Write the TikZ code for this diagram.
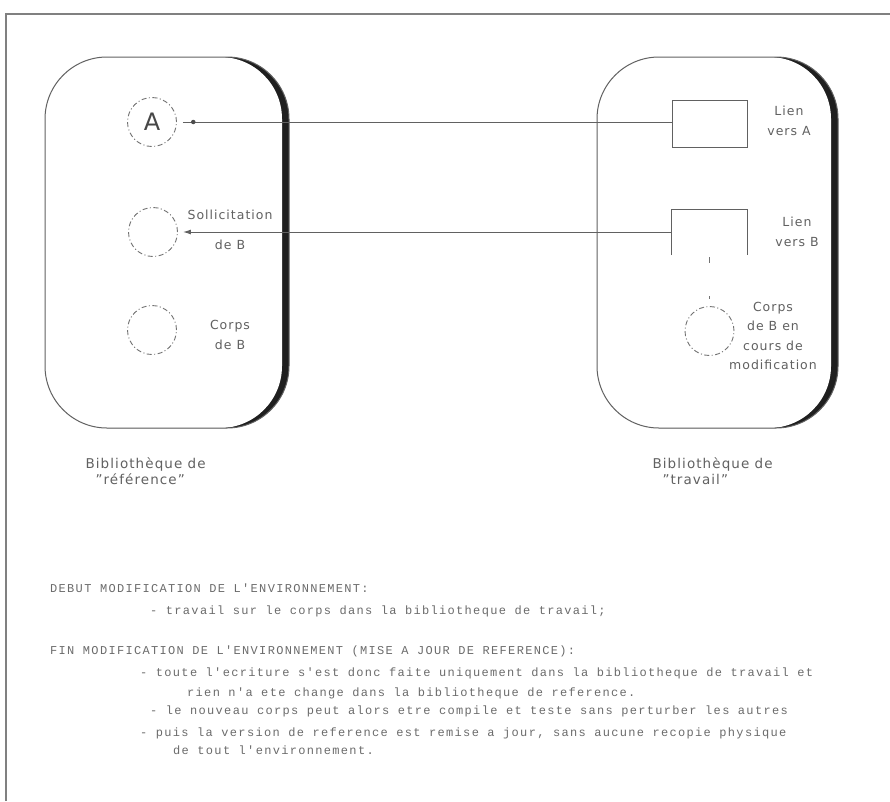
\documentclass[tikz,border=0pt]{standalone}
\usepackage{fontspec}
\setmainfont[LetterSpace=8]{DejaVu Sans}
\newfontfamily\listfont[LetterSpace=11]{Liberation Mono}
\usetikzlibrary{arrows.meta}

\tikzset{
  trait/.style={draw=black!62, line width=1pt},
  bord/.style={rounded corners=62pt},
  bulle/.style={circle, draw=black!55, line width=0.9pt,
    dash pattern=on 5pt off 2.5pt on 1pt off 2.5pt,
    minimum size=49pt, inner sep=0pt},
  lien/.style={trait, minimum width=75pt, minimum height=47pt, inner sep=0pt},
  point/.style={circle, fill=black!70, inner sep=0pt, minimum size=4.5pt},
  legende/.style={text=black!62, font=\fontsize{12.5}{19.5}\selectfont, align=center},
  biblio/.style={text=black!62, font=\fontsize{13.5}{15.5}\selectfont, align=left, anchor=west},
  ligne/.style={text=black!58, font=\listfont\fontsize{12}{14}\selectfont, anchor=base west, inner sep=0pt}
}

\begin{document}
\begin{tikzpicture}[x=1pt, y=-1pt]
  \useasboundingbox (0,0) rectangle (890,801);
  \draw[black!50, line width=1.6pt] (6,801) -- (6,14) -- (890,14);

  \fill[black!88, bord] (45,57) rectangle (289,428);
  \fill[white, bord] (38,57) rectangle (282,428);
  \draw[trait, bord] (45,57) rectangle (289,428);

  \fill[black!88, bord] (597,57) rectangle (838,428);
  \fill[white, bord] (590,57) rectangle (831,428);
  \draw[trait, bord] (597,57) rectangle (838,428);

  \node[bulle, font=\fontsize{24}{24}\selectfont, text=black!72] (A) at (152,122) {A};
  \node[bulle] (solB) at (153,232) {};
  \node[bulle] (corpsB) at (152,330) {};
  \node[lien] (lienA) at (709.5,123.5) {};
  \node[inner sep=0pt, minimum width=75pt, minimum height=45pt] (lienB) at (709.5,232.5) {};
  \node[bulle] (corpsT) at (709.5,331) {};

  \draw[trait] (lienB.south west) |- (lienB.north east) -- (lienB.south east);
  \draw[trait, shorten <=6pt] (A.east) -- node[pos=0.033, point]{} (A.east -| lienA.west);
  \draw[trait, -{Latex[length=8pt,width=5pt]}, shorten >=5pt] (lienB.west |- solB.east) -- (solB.east);
  \draw[black!55, line width=1pt, dash pattern=on 0pt off 2pt on 6pt off 33pt on 3pt off 30pt] (lienB.south) -- (corpsT.north);

  \node[legende] (lblSol) at (230,230) {Sollicitation\\[10pt]de B};
  \node[legende] (lblCorpsB) at (230,335) {Corps\\de B};
  \node[legende] (lblA) at (789,121) {Lien\\vers A};
  \node[legende] (lblB) at (797,232) {Lien\\vers B};
  \node[legende] (lblCorpsT) at (773,336) {Corps\\de B en\\cours de\\modification};

  \node[biblio] (bibRef) at (82,471) {Bibliothèque de\\\hspace*{10pt}"référence"};
  \node[biblio] (bibTrav) at (649,471) {Bibliothèque de\\\hspace*{10pt}"travail"};

  \node[ligne] (l1) at (50,592) {DEBUT MODIFICATION DE L'ENVIRONNEMENT:};
  \node[ligne] (l2) at (150,614) {- travail sur le corps dans la bibliotheque de travail;};
  \node[ligne] (l3) at (50,654) {FIN MODIFICATION DE L'ENVIRONNEMENT (MISE A JOUR DE REFERENCE):};
  \node[ligne] (l4) at (140,676) {- toute l'ecriture s'est donc faite uniquement dans la bibliotheque de travail et};
  \node[ligne] (l5) at (187,696) {rien n'a ete change dans la bibliotheque de reference.};
  \node[ligne] (l6) at (150,714) {- le nouveau corps peut alors etre compile et teste sans perturber les autres};
  \node[ligne] (l7) at (140,736) {- puis la version de reference est remise a jour, sans aucune recopie physique};
  \node[ligne] (l8) at (173,754) {de tout l'environnement.};
\end{tikzpicture}
\end{document}
